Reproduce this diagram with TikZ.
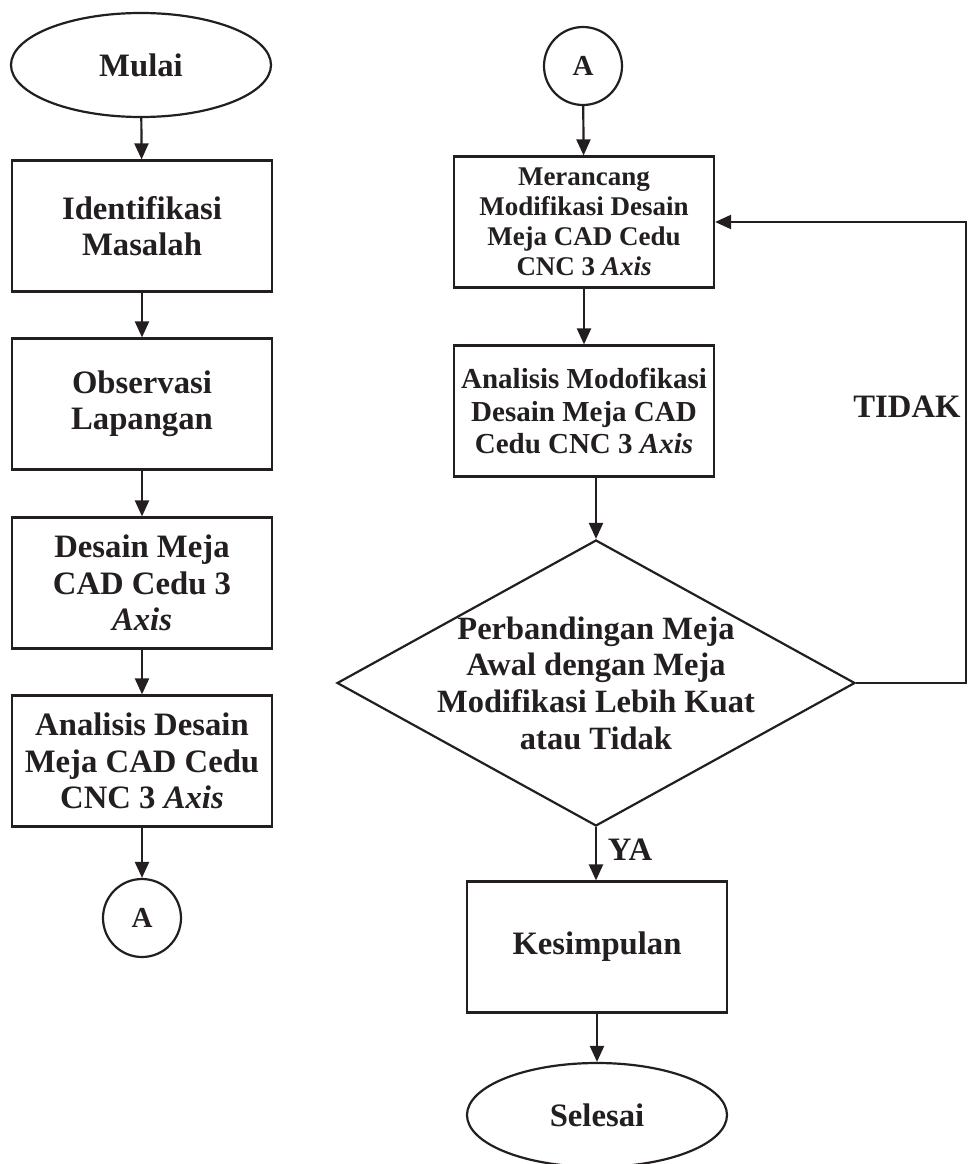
\documentclass[tikz,border=0pt]{standalone}
\usepackage{fontspec}
\setmainfont{Liberation Serif}
\usetikzlibrary{shapes.geometric,arrows.meta}
\definecolor{ink}{RGB}{35,31,32}
\begin{document}
\begin{tikzpicture}[x=1pt,y=-1pt,
  every node/.style={text=ink},
  line/.style={draw=ink, line width=2.2pt},
  arr/.style={line, -{Triangle[length=16pt,width=14pt]}},
  proc/.style={draw=ink, line width=2.2pt, rectangle, minimum width=260pt,
    minimum height=131pt, align=center, inner sep=0pt},
  term/.style={draw=ink, line width=2.2pt, ellipse, minimum width=260pt,
    minimum height=104pt, inner sep=0pt},
  conn/.style={draw=ink, line width=2.2pt, circle, minimum size=78pt, inner sep=0pt,
    font=\fontsize{29}{32}\selectfont\bfseries},
  decision/.style={draw=ink, line width=2.2pt, diamond, minimum width=518pt,
    minimum height=286pt, inner sep=0pt},
  txtL/.style={font=\fontsize{32.7}{36.5}\selectfont\bfseries},
  txtM/.style={font=\fontsize{27}{30}\selectfont\bfseries},
  txtA/.style={font=\fontsize{29}{32.5}\selectfont\bfseries},
  txtD/.style={font=\fontsize{32.5}{36.7}\selectfont\bfseries}
]
\useasboundingbox (0,0) rectangle (968,1164);

% left column
\node[term, txtL] (start) at (141,65) {Mulai};
\node[proc, txtL] (ident) at (142,226) {Identifikasi\\Masalah};
\node[proc, txtL] (obs) at (142,404) {Observasi\\Lapangan};
\node[proc, txtL] (desain) at (142,583) {Desain Meja\\CAD Cedu 3\\\textit{Axis}};
\node[proc, txtL] (anal) at (142,761) {Analisis Desain\\Meja CAD Cedu\\CNC 3 \textit{Axis}};
\node[conn] (aout) at (142,918) {A};

\draw[arr] (start) -- (ident);
\draw[arr] (ident) -- (obs);
\draw[arr] (obs) -- (desain);
\draw[arr] (desain) -- (anal);
\draw[arr] (anal) -- (aout);

% right column
\node[conn] (ain) at (583,66) {A};
\node[proc, txtM] (mer) at (584,222) {Merancang\\Modifikasi Desain\\Meja CAD Cedu\\CNC 3 \textit{Axis}};
\node[proc, txtA] (amod) at (584,411) {Analisis Modofikasi\\Desain Meja CAD\\Cedu CNC 3 \textit{Axis}};
\node[decision] (dec) at (596,683) {};
\node[txtD, align=center] (dectext) at (596,683) {Perbandingan Meja\\Awal dengan Meja\\Modifikasi Lebih Kuat\\atau Tidak};
\node[proc, txtL] (kes) at (597,947) {Kesimpulan};
\node[term, txtL] (end) at (597,1115) {Selesai};

\node[txtL] (ya) at (630,850) {YA};
\node[txtL] (tidak) at (907,407) {TIDAK};

\coordinate (turn) at (966,683);

\draw[arr] (ain) -- (mer);
\draw[arr] (mer) -- (amod);
\draw[arr] (dec.north |- amod.south) -- (dec.north);
\draw[arr] (dec.south) -- (dec.south |- kes.north);
\draw[arr] (kes) -- (end);
\draw[arr] (dec.east) -- (turn) |- (mer.east);
\end{tikzpicture}
\end{document}
